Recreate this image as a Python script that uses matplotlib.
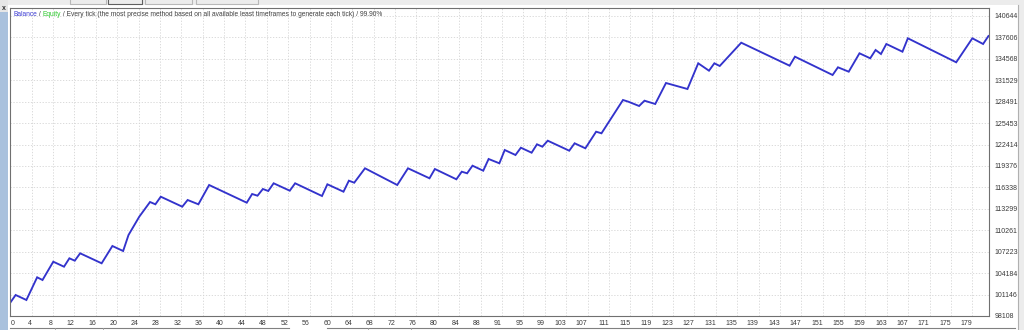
import numpy as np
import matplotlib
matplotlib.use("Agg")
import matplotlib.pyplot as plt
from matplotlib.patches import Rectangle

trade_no = [0, 1, 3, 5, 6, 8, 10, 11, 12, 13,
            17, 19, 21, 22, 24, 26, 27, 28, 32, 33,
            35, 37, 44, 45, 46, 47, 48, 49, 52, 53,
            58, 59, 62, 63, 64, 66, 72, 74, 78, 79,
            83, 84, 85, 86, 88, 89, 91, 92, 94, 95,
            97, 98, 99, 100, 104, 105, 107, 109, 110, 114,
            115, 117, 118, 120, 122, 126, 128, 130, 131, 132,
            136, 145, 146, 153, 154, 156, 158, 160, 161, 162,
            163, 166, 167, 176, 179, 181, 182]
balance = [100000, 101086, 100377, 103595, 103212, 105807, 105098, 106289, 105949, 106998,
           105580, 108033, 107324, 109593, 112188, 114272, 113946, 115024, 113606, 114556,
           113946, 116682, 114173, 115406, 115165, 116115, 115832, 116924, 115874, 116924,
           115123, 116782, 115733, 117293, 117008, 119050, 116682, 119050, 117633, 118951,
           117491, 118569, 118341, 119419, 118710, 120369, 119759, 121645, 120936, 121971,
           121262, 122453, 122113, 122964, 121546, 122595, 121886, 124240, 124013, 128735,
           128494, 127884, 128635, 128168, 131144, 130294, 133938, 132889, 133938, 133556,
           136859, 133599, 134875, 132280, 133371, 132747, 135356, 134647, 135824, 135257,
           136675, 135583, 137483, 134080, 137483, 136675, 137809]

x_tick_labels = [0, 4, 8, 12, 16, 20, 24, 28, 32, 36, 40, 44, 48, 52, 56, 60, 64, 68, 72, 76,
                 80, 84, 88, 91, 95, 99, 103, 107, 111, 115, 119, 123, 127, 131, 135, 139,
                 143, 147, 151, 155, 159, 163, 167, 171, 175, 179]
y_tick_labels = [98108, 101146, 104184, 107223, 110261, 113299, 116338, 119376,
                 122414, 125453, 128491, 131529, 134568, 137606, 140644]

title_parts = [("Balance", "#3c3cd2"), (" / ", "#404040"), ("Equity", "#2ec82e"),
               (" / Every tick (the most precise method based on all available least "
                "timeframes to generate each tick) / 99.90%", "#404040")]

plt.rcParams['font.family'] = ['Liberation Sans', 'DejaVu Sans']

W, H = 1024, 330
fig = plt.figure(figsize=(W / 100, H / 100), dpi=100)
fig.patch.set_facecolor("white")

# window chrome around the chart (pixel space)
bg = fig.add_axes([0, 0, 1, 1], zorder=0)
bg.set_xlim(0, W)
bg.set_ylim(H, 0)
bg.axis("off")
bg.add_patch(Rectangle((0, 0), W, 5, facecolor="#ececec", edgecolor="none"))
for x0, x1, ec in [(70, 106, "#b8b8b8"), (108, 142, "#606060"), (145, 192, "#b8b8b8"), (196, 258, "#b8b8b8")]:
    bg.plot([x0, x0, x1, x1], [0, 4, 4, 0], color=ec, lw=0.8)
bg.add_patch(Rectangle((0, 0), 8, H, facecolor="#a9c1dd", edgecolor="none"))
bg.add_patch(Rectangle((0, 0), 8, 12, facecolor="#e6e6e6", edgecolor="none"))
bg.text(3.5, 8, "x", fontsize=5, ha="center", va="center", color="#303030", weight="bold")
bg.add_patch(Rectangle((1018, 0), 6, H, facecolor="#ececec", edgecolor="none"))
bg.plot([1018, 1018], [5, H], color="#b0b0b0", lw=0.8)
bg.plot([10, 289], [327.5, 327.5], color="#808080", lw=0.8)
bg.plot([327, 1015], [327.5, 327.5], color="#808080", lw=0.8)
for xv in [55, 103, 368, 411]:
    bg.plot([xv, xv], [327.5, H], color="#a0a0a0", lw=0.6)

# main chart
L, R, T, B = 10, 989, 8, 316
ax = fig.add_axes([L / W, 1 - B / H, (R - L) / W, (B - T) / H], zorder=1)
ax.set_facecolor("white")

ax.plot(trade_no, balance, color="#3333cc", lw=1.35, solid_joinstyle="miter")

px_per_val = 300 / (y_tick_labels[-1] - y_tick_labels[0])
ax.set_ylim(y_tick_labels[0], y_tick_labels[-1] + 8 / px_per_val)
ax.set_xlim(-0.05, 182.1)

x_pos = np.linspace(0, x_tick_labels[-1], len(x_tick_labels))
ax.set_xticks(x_pos)
ax.set_xticklabels([str(v) for v in x_tick_labels])
ax.set_yticks(y_tick_labels)
ax.set_yticklabels([str(v) for v in y_tick_labels])
ax.yaxis.tick_right()
ax.tick_params(axis="both", length=0, labelsize=5, labelcolor="#3a3a3a")
ax.tick_params(axis="y", pad=4)
ax.tick_params(axis="x", pad=3)
for lab in ax.get_xticklabels():
    lab.set_horizontalalignment("right")
ax.get_xticklabels()[0].set_horizontalalignment("left")

ax.grid(True, color="#d4d4d4", lw=0.6, linestyle=(0, (1.5, 2)))
ax.set_axisbelow(True)
for s in ax.spines.values():
    s.set_color("#707070")
    s.set_linewidth(0.8)

# legend-like caption, drawn piece by piece
fig.canvas.draw()
renderer = fig.canvas.get_renderer()
xpix = 13
for txt, col in title_parts:
    t = fig.text(xpix / W, 1 - 14 / H, txt, color=col, fontsize=4.75, va="center", ha="left", zorder=3)
    xpix += t.get_window_extent(renderer).width

fig.savefig("out.png", dpi=100)
